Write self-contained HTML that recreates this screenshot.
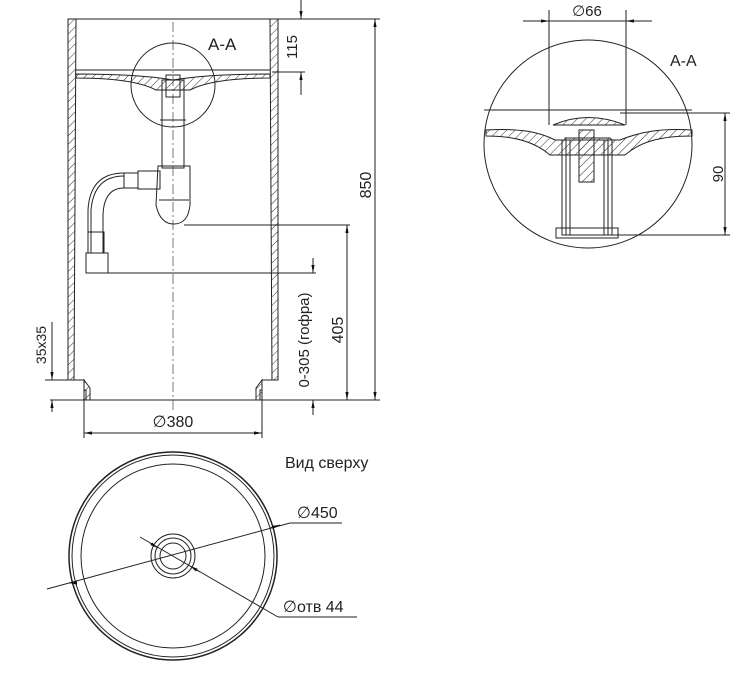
<!DOCTYPE html>
<html><head><meta charset="utf-8"><style>
html,body{margin:0;padding:0;background:#fff}
svg{display:block}
text{font-family:"Liberation Sans","DejaVu Sans",sans-serif;fill:#222}
</style></head><body>
<svg width="750" height="678" viewBox="0 0 750 678" xmlns="http://www.w3.org/2000/svg">
<defs>
<pattern id="h" width="6" height="6" patternUnits="userSpaceOnUse" patternTransform="rotate(45)">
<line x1="0" y1="0" x2="0" y2="6" stroke="#333" stroke-width="1"/></pattern>
<marker id="a" viewBox="0 0 10 10" refX="10" refY="5" markerWidth="8" markerHeight="8" orient="auto-start-reverse"><path d="M0,3 L10,5 L0,7 z" fill="#111"/></marker>
</defs>
<g stroke="#222" stroke-width="1" fill="none">
<path d="M68,19 L76,19 L74,380 L68,380 Z" fill="url(#h)"/>
<path d="M270,19 L278,19 L278,380 L272,380 Z" fill="url(#h)"/>
<line x1="68" y1="19" x2="278" y2="19"/>
<path d="M76,70 L270,70"/>
<path d="M76,74 C120,74 150,76 173,80 C196,76 226,74 270,74 L270,78 C230,78 205,82 190,90 L156,90 C141,82 116,78 76,78 Z" fill="url(#h)"/>
<path d="M68,380 L84,380 L84,390 L86,390 L86,400 L260,400 L260,390 L262,390 L262,380 L278,380"/>
<path d="M84,380 L84,400 L90,400 L90,388 Z" fill="url(#h)"/>
<path d="M262,380 L262,400 L256,400 L256,388 Z" fill="url(#h)"/>
<line x1="50" y1="400" x2="86" y2="400"/>
<line x1="260" y1="400" x2="320" y2="400"/>
<line x1="173" y1="22" x2="173" y2="410" stroke-dasharray="10,3,2,3" stroke-width="0.6"/>
<circle cx="173" cy="85" r="42"/>
<rect x="162" y="80" width="22" height="88"/>
<line x1="160" y1="120" x2="186" y2="120"/>
<rect x="166" y="75" width="14" height="22"/>
<path d="M158,166 L190,166 L190,205 Q188,224 174,224 Q160,224 156,205 Z"/>
<line x1="159" y1="200" x2="189" y2="200"/>
<rect x="138" y="171" width="22" height="18"/>
<rect x="124" y="173" width="14" height="15"/>
<path d="M124,173 Q90,173 88,210 L88,253"/>
<path d="M124,188 Q104,188 103,215 L103,253"/>
<path d="M124,176 Q94,176 91,210 L91,253"/>
<rect x="86" y="253" width="22" height="20"/>
<rect x="88" y="232" width="16" height="21"/>
<line x1="184" y1="225" x2="350" y2="225"/>
<line x1="108" y1="273" x2="316" y2="273" />
<line x1="278" y1="19" x2="380" y2="19"/>
<line x1="272" y1="72" x2="305" y2="72"/>
<line x1="301" y1="0" x2="301" y2="19" marker-end="url(#a)"/>
<line x1="301" y1="95" x2="301" y2="72" marker-end="url(#a)"/>
<line x1="375" y1="19" x2="375" y2="400" marker-start="url(#a)" marker-end="url(#a)"/>
<line x1="320" y1="400" x2="380" y2="400"/>
<line x1="347" y1="225" x2="347" y2="400" marker-start="url(#a)" marker-end="url(#a)"/>
<line x1="313" y1="258" x2="313" y2="273" marker-end="url(#a)"/>
<line x1="313" y1="415" x2="313" y2="400" marker-end="url(#a)"/>
<line x1="52" y1="322" x2="52" y2="380" marker-end="url(#a)"/>
<line x1="52" y1="412" x2="52" y2="400" marker-end="url(#a)"/>
<line x1="45" y1="380" x2="68" y2="380"/>
<line x1="84" y1="400" x2="84" y2="438"/>
<line x1="262" y1="400" x2="262" y2="438"/>
<line x1="84" y1="433" x2="262" y2="433" marker-start="url(#a)" marker-end="url(#a)"/>
<circle cx="588" cy="144" r="104"/>
<path d="M484,110 L692,110"/>
<path d="M486,130 C520,128 540,132 555,140 L565,140 L565,138 L610,138 L612,140 L620,140 C640,132 660,128 692,130 L692,136 C660,136 640,142 625,155 L550,155 C535,142 515,136 486,136 Z" fill="url(#h)"/>
<path d="M553,125 Q588,110 625,125 Z" fill="url(#h)"/>
<rect x="562" y="140" width="50" height="95"/>
<rect x="566" y="140" width="4" height="95"/>
<rect x="604" y="140" width="4" height="95"/>
<rect x="579" y="130" width="15" height="52" fill="url(#h)"/>
<rect x="556" y="228" width="62" height="10"/>
<line x1="549" y1="10" x2="549" y2="125"/>
<line x1="626" y1="10" x2="626" y2="125"/>
<line x1="523" y1="21" x2="549" y2="21" marker-end="url(#a)"/>
<line x1="652" y1="21" x2="626" y2="21" marker-end="url(#a)"/>
<line x1="549" y1="21" x2="626" y2="21"/>
<line x1="620" y1="113" x2="730" y2="113"/>
<line x1="610" y1="235" x2="730" y2="235"/>
<line x1="725" y1="113" x2="725" y2="235" marker-start="url(#a)" marker-end="url(#a)"/>
<circle cx="173" cy="556" r="104" stroke-width="1.5"/>
<circle cx="173" cy="556" r="101"/>
<circle cx="173" cy="556" r="92"/>
<circle cx="173" cy="556" r="22"/>
<circle cx="173" cy="556" r="18"/>
<circle cx="173" cy="556" r="13"/>
<line x1="47" y1="589" x2="290" y2="523"/>
<line x1="70" y1="583" x2="69" y2="583" marker-end="url(#a)"/>
<line x1="270" y1="528" x2="280" y2="525" marker-end="url(#a)"/>
<line x1="290" y1="523" x2="342" y2="523"/>
<line x1="140" y1="537" x2="278" y2="617"/>
<line x1="150" y1="543" x2="158" y2="548" marker-end="url(#a)"/>
<line x1="200" y1="572" x2="190" y2="566" marker-end="url(#a)"/>
<line x1="278" y1="617" x2="357" y2="617"/>
</g>
<text x="208" y="50" font-size="17">A-A</text>
<text x="297" y="47" font-size="15" transform="rotate(-90 297 47)" text-anchor="middle">115</text>
<text x="371" y="185" font-size="16" transform="rotate(-90 371 185)" text-anchor="middle">850</text>
<text x="343" y="330" font-size="16" transform="rotate(-90 343 330)" text-anchor="middle">405</text>
<text x="309" y="340" font-size="15" transform="rotate(-90 309 340)" text-anchor="middle">0-305 (гофра)</text>
<text x="46" y="345" font-size="14" transform="rotate(-90 46 345)" text-anchor="middle">35x35</text>
<text x="173" y="427" font-size="16" text-anchor="middle">∅380</text>
<text x="587" y="16" font-size="15" text-anchor="middle">∅66</text>
<text x="670" y="66" font-size="16">A-A</text>
<text x="723" y="174" font-size="15" transform="rotate(-90 723 174)" text-anchor="middle">90</text>
<text x="285" y="468" font-size="16">Вид сверху</text>
<text x="297" y="518" font-size="16">∅450</text>
<text x="283" y="612" font-size="16">∅отв 44</text>
</svg>
</body></html>
